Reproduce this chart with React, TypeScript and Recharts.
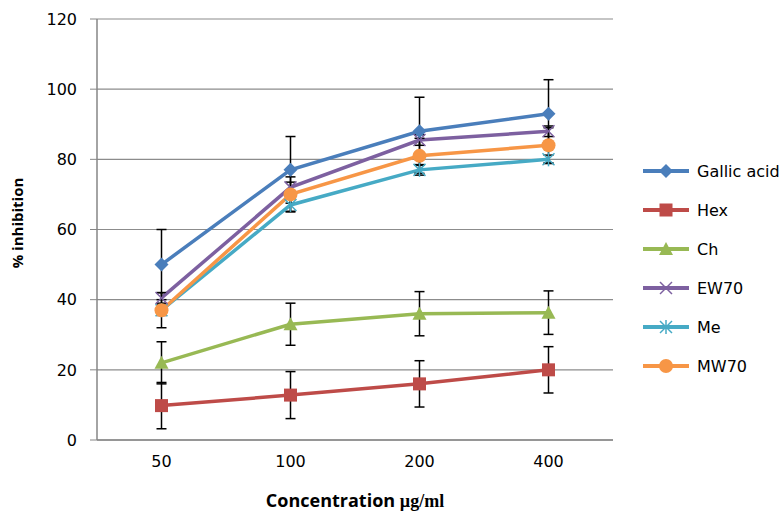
import { LineChart, Line, XAxis, YAxis, CartesianGrid, ErrorBar } from 'recharts'

const concentrations = ['50', '100', '200', '400']

const seriesNames = ['Gallic acid', 'Hex', 'Ch', 'EW70', 'Me', 'MW70']
const seriesColors = ['#4A7EBB', '#BE4B48', '#98B954', '#7D60A0', '#46AAC5', '#F79646']

const gallicAcid = [50, 77, 88, 93]
const hex = [9.8, 12.8, 16, 20]
const ch = [22, 33, 36, 36.3]
const ew70 = [40.5, 72, 85.5, 88]
const me = [37, 67, 77, 80]
const mw70 = [37, 70, 81, 84]

const gallicAcidErr = [10, 9.5, 9.7, 9.7]
const hexErr = [6.6, 6.7, 6.6, 6.6]
const chErr = [6, 6, 6.3, 6.2]
const ew70Err = [1.5, 1.5, 1.5, 1.5]
const meErr = [1.5, 1.8, 1.5, 1.2]
const mw70Err = [5, 5, 5, 5]

const yTicks = [0, 20, 40, 60, 80, 100, 120]

const values = [gallicAcid, hex, ch, ew70, me, mw70]
const errors = [gallicAcidErr, hexErr, chErr, ew70Err, meErr, mw70Err]
const markers = ['diamond', 'square', 'triangle', 'x', 'star', 'circle']

const chartData = concentrations.map((c, i) => {
  const row: Record<string, string | number> = { conc: c }
  seriesNames.forEach((name, s) => {
    row[`s${s}`] = values[s][i]
    row[`e${s}`] = errors[s][i]
  })
  return row
})

const tickFont = { fontFamily: 'DejaVu Sans', fontSize: 16, fill: '#000' }

function Marker({ kind, cx, cy, color }: { kind: string; cx: number; cy: number; color: string }) {
  switch (kind) {
    case 'diamond':
      return <polygon points={`${cx},${cy - 7} ${cx + 7},${cy} ${cx},${cy + 7} ${cx - 7},${cy}`} fill={color} />
    case 'square':
      return <rect x={cx - 6.5} y={cy - 6.5} width={13} height={13} fill={color} />
    case 'triangle':
      return <polygon points={`${cx},${cy - 7} ${cx + 7},${cy + 6} ${cx - 7},${cy + 6}`} fill={color} />
    case 'x':
      return (
        <g stroke={color} strokeWidth={1.5}>
          <line x1={cx - 6} y1={cy - 6} x2={cx + 6} y2={cy + 6} />
          <line x1={cx - 6} y1={cy + 6} x2={cx + 6} y2={cy - 6} />
        </g>
      )
    case 'star':
      return (
        <g stroke={color} strokeWidth={1.5}>
          <line x1={cx - 6} y1={cy - 6} x2={cx + 6} y2={cy + 6} />
          <line x1={cx - 6} y1={cy + 6} x2={cx + 6} y2={cy - 6} />
          <line x1={cx} y1={cy - 7} x2={cx} y2={cy + 7} />
        </g>
      )
    default:
      return <circle cx={cx} cy={cy} r={7} fill={color} />
  }
}

// legend + axis titles drawn over the chart
function Overlay() {
  return (
    <svg width={783} height={511} style={{ position: 'absolute', left: 0, top: 0, pointerEvents: 'none' }}>
      {seriesNames.map((name, i) => {
        const y = 171 + i * 39
        return (
          <g key={name}>
            <line x1={643} y1={y} x2={689} y2={y} stroke={seriesColors[i]} strokeWidth={4} />
            <Marker kind={markers[i]} cx={666} cy={y} color={seriesColors[i]} />
            <text x={697} y={y} dy="0.36em" {...tickFont}>
              {name}
            </text>
          </g>
        )
      })}
      <text x={355} y={507} textAnchor="middle" fontWeight="bold" fontSize={18} fill="#000">
        <tspan fontFamily="Open Sans">Concentration </tspan>
        <tspan fontFamily="Liberation Serif">µg/ml</tspan>
      </text>
      <text
        x={23}
        y={223}
        transform="rotate(-90 23 223)"
        textAnchor="middle"
        fontFamily="Open Sans"
        fontWeight="bold"
        fontSize={15}
        fill="#000"
      >
        % inhibition
      </text>
    </svg>
  )
}

export default function App() {
  return (
    <div style={{ position: 'absolute', left: 0, top: 0, width: 783, height: 511, background: '#fff' }}>
      <LineChart width={783} height={511} data={chartData} margin={{ top: 19, right: 170, bottom: 0, left: 0 }}>
        <CartesianGrid horizontal vertical={false} stroke="#8c8c8c" strokeWidth={1.2} />
        <XAxis
          dataKey="conc"
          scale="band"
          height={71}
          axisLine={{ stroke: '#868686', strokeWidth: 1.5 }}
          tickLine={false}
          tickSize={6}
          tickMargin={10}
          tick={tickFont}
        />
        <YAxis
          domain={[0, 120]}
          ticks={yTicks}
          width={97}
          axisLine={{ stroke: '#868686', strokeWidth: 1.5 }}
          tickLine={{ stroke: '#868686' }}
          tickSize={7}
          tickMargin={13}
          tick={tickFont}
        />
        {seriesNames.map((name, s) => (
          <Line
            key={name}
            name={name}
            dataKey={`s${s}`}
            stroke={seriesColors[s]}
            strokeWidth={3.5}
            isAnimationActive={false}
            dot={(p: any) => (
              <Marker key={`${name}-${p.index}`} kind={markers[s]} cx={p.cx} cy={p.cy} color={seriesColors[s]} />
            )}
            activeDot={false}
          >
            <ErrorBar dataKey={`e${s}`} width={5} stroke="#000" strokeWidth={1.5} direction="y" isAnimationActive={false} />
          </Line>
        ))}
      </LineChart>
      <Overlay />
    </div>
  )
}
